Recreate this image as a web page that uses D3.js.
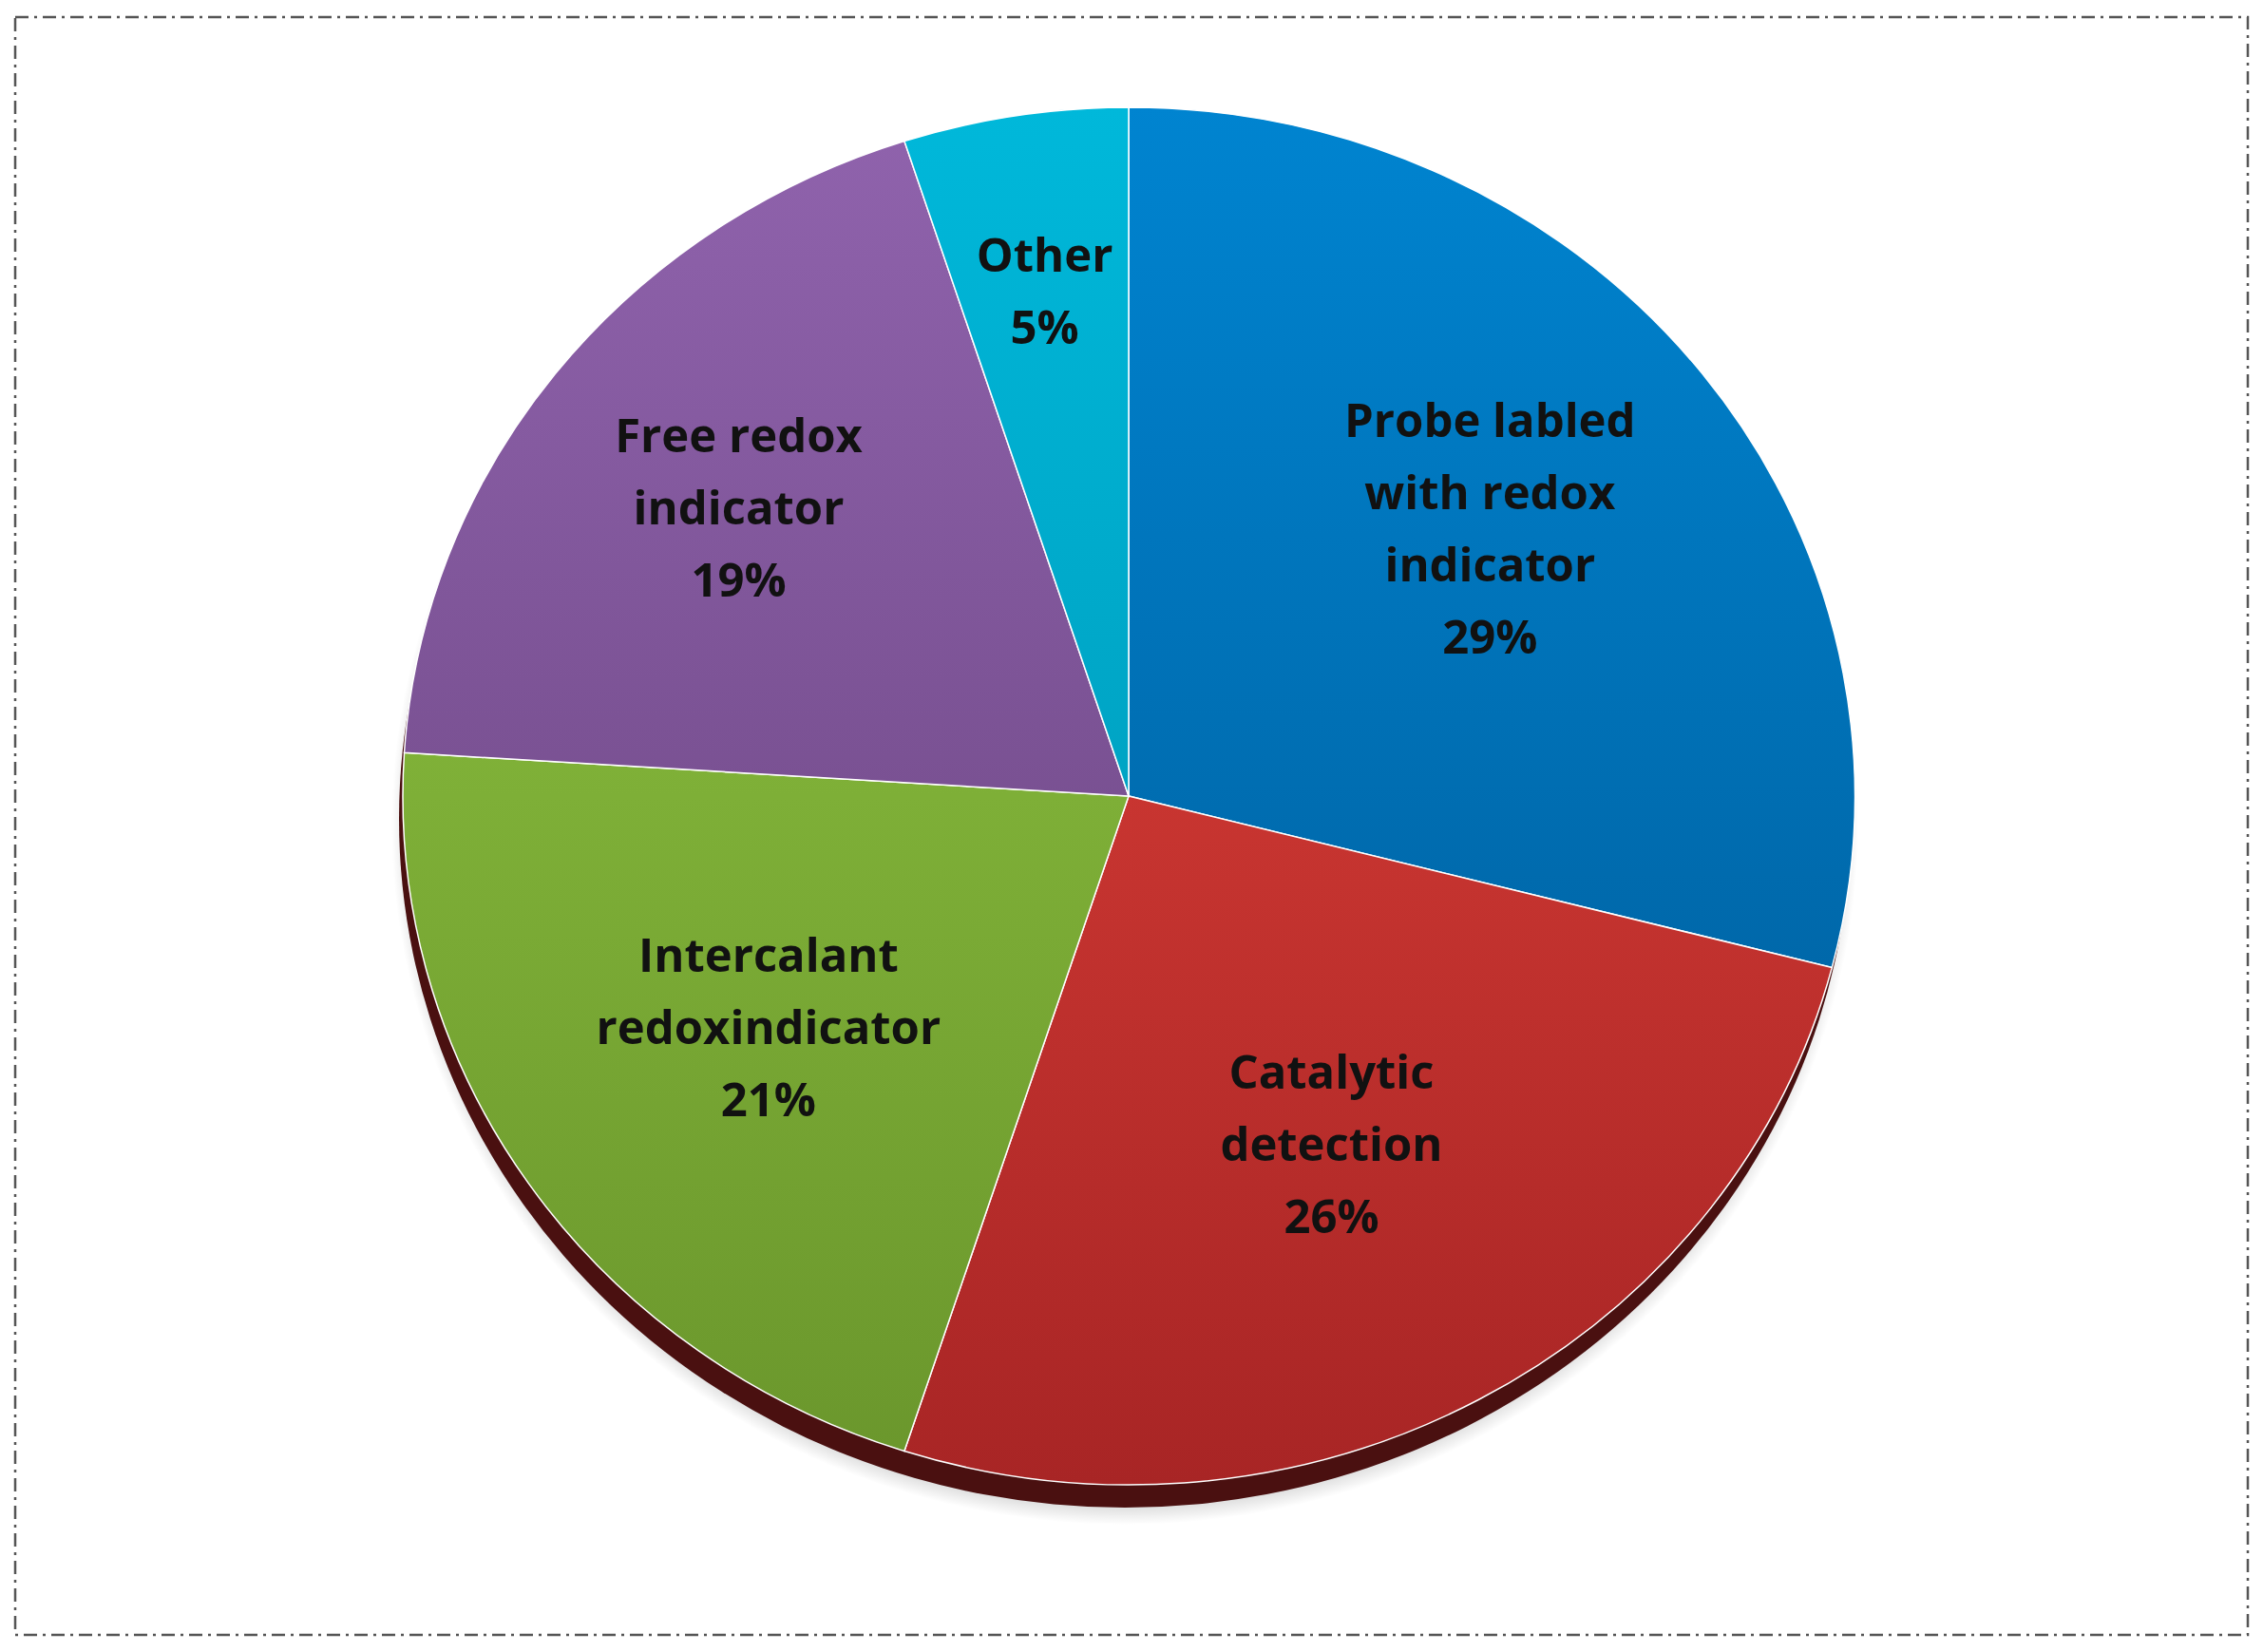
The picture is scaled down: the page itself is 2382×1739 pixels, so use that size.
<!DOCTYPE html>
<html><head><meta charset="utf-8">
<script src="https://cdn.jsdelivr.net/npm/d3@7"></script>
<style>body{margin:0;background:#fff}</style>
</head><body>
<svg id="chart" width="2382" height="1739"></svg>
<script>
// data
const categories = ["Probe labled|with redox|indicator", "Catalytic|detection", "Intercalant|redoxindicator", "Free redox|indicator", "Other"];
const values = [29, 26, 21, 19, 5];
const colorsTop = ["#0084d0", "#e8453c", "#92c842", "#9063ad", "#00b8da"];
const colorsBottom = ["#005793", "#a82525", "#6a962c", "#633f78", "#008fae"];
// label distance from centre, as a fraction of radius
const labelRadius = [0.63, 0.58, 0.6, 0.68, 0.74];

const width = 2382, height = 1739;
const cx = 1188, cy = 838, rx = 764, ry = 725;

const svg = d3.select("#chart");
svg.append("rect").attr("x", 16).attr("y", 18).attr("width", 2350).attr("height", 1703)
  .attr("fill", "none").attr("stroke", "#555").attr("stroke-width", 2.5)
  .attr("stroke-dasharray", "14 6 3 6");

const defs = svg.append("defs");
values.forEach((v, i) => {
  const g = defs.append("linearGradient").attr("id", "g" + i)
    .attr("gradientUnits", "userSpaceOnUse").attr("x1", 0).attr("y1", -1).attr("x2", 0).attr("y2", 1);
  g.append("stop").attr("offset", "0").attr("stop-color", colorsTop[i]);
  g.append("stop").attr("offset", "1").attr("stop-color", colorsBottom[i]);
});
const sh = defs.append("radialGradient").attr("id", "sh");
sh.append("stop").attr("offset", "0.92").attr("stop-color", "#000").attr("stop-opacity", 0.4);
sh.append("stop").attr("offset", "1").attr("stop-color", "#000").attr("stop-opacity", 0);

// 3D edge / shadow
svg.append("ellipse").attr("cx", cx - 4).attr("cy", cy + 30).attr("rx", rx + 8).attr("ry", ry + 12)
  .attr("fill", "url(#sh)");
svg.append("ellipse").attr("cx", cx - 4).attr("cy", cy + 24).attr("rx", rx).attr("ry", ry)
  .attr("fill", "#4a1010");

const pie = d3.pie().value(d => d).sort(null);
const arc = d3.arc().innerRadius(0).outerRadius(1);

const g = svg.append("g").attr("transform", `translate(${cx},${cy}) scale(${rx},${ry})`);
const arcs = pie(values);
g.selectAll("path").data(arcs).join("path")
  .attr("d", arc)
  .attr("fill", (d, i) => `url(#g${i})`)
  .attr("stroke", "#fff").attr("stroke-width", 1.5).attr("vector-effect", "non-scaling-stroke");

const lg = svg.append("g").attr("transform", `translate(${cx},${cy})`);
arcs.forEach((d, i) => {
  const r = labelRadius[i];
  const [x, y] = d3.arc().innerRadius(r).outerRadius(r).centroid(d);
  const lines = categories[i].split("|").concat([values[i] + "%"]);
  const t = lg.append("text").attr("x", x * rx).attr("y", y * ry)
    .attr("text-anchor", "middle").attr("font-family", "Open Sans, sans-serif")
    .attr("font-weight", "bold").attr("font-size", 49).attr("fill", "#111");
  const h = 76, off = -(lines.length - 1) * h / 2 + 16;
  lines.forEach((l, j) => t.append("tspan").attr("x", x * rx).attr("dy", j === 0 ? off : h).text(l));
});
</script>
</body></html>
